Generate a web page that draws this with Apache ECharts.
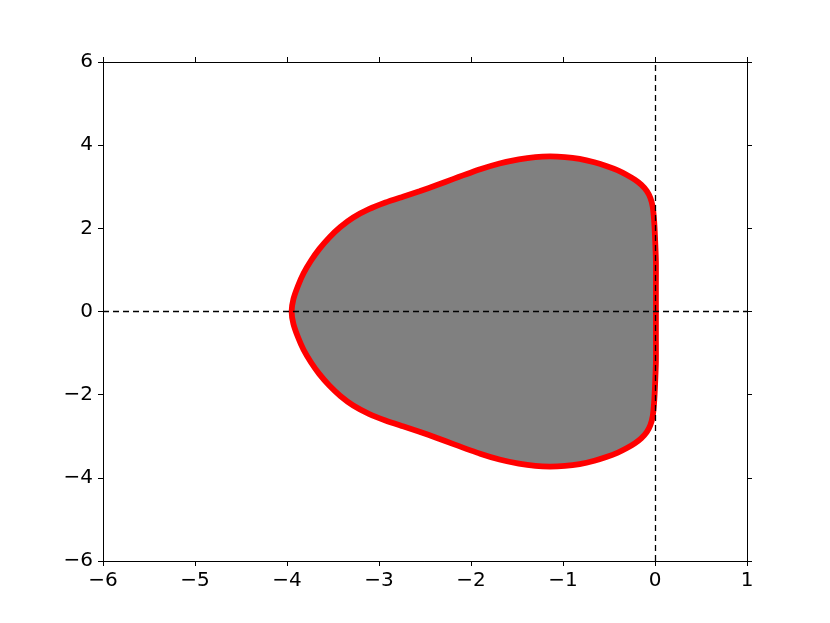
<!DOCTYPE html>
<html>
<head>
<meta charset="utf-8">
<script src="https://cdn.jsdelivr.net/npm/echarts@6/dist/echarts.min.js"></script>
<style>
  html, body { margin: 0; padding: 0; background: #fff; }
  #chart { width: 830px; height: 623px; }
</style>
</head>
<body>
<div id="chart"></div>
<script>
var boundaryRe = [
  -3.95, -3.93, -3.88, -3.82, -3.74, -3.65, -3.54, -3.42, -3.28, -3.11, -2.93, -2.74,
  -2.56, -2.37, -2.19, -1.90, -1.69, -1.48, -1.30, -1.14, -0.98, -0.82, -0.66, -0.53,
  -0.41, -0.31, -0.22, -0.15, -0.09, -0.05, -0.025, -0.01, 0.00, 0.01, 0.01, 0.01,
  0.01, 0.01, 0.00, -0.01, -0.025, -0.05, -0.09, -0.15, -0.22, -0.31, -0.41, -0.53,
  -0.66, -0.82, -0.98, -1.14, -1.30, -1.48, -1.69, -1.90, -2.19, -2.37, -2.56, -2.74,
  -2.93, -3.11, -3.28, -3.42, -3.54, -3.65, -3.74, -3.82, -3.88, -3.93
];
var boundaryIm = [
  0.00, 0.30, 0.62, 0.92, 1.22, 1.50, 1.78, 2.03, 2.26, 2.46, 2.62, 2.76,
  2.89, 3.04, 3.19, 3.42, 3.56, 3.66, 3.715, 3.73, 3.715, 3.67, 3.59, 3.50,
  3.40, 3.29, 3.17, 3.05, 2.90, 2.73, 2.52, 2.20, 1.80, 1.20, 0.60, 0.00,
  -0.60, -1.20, -1.80, -2.20, -2.52, -2.73, -2.90, -3.05, -3.17, -3.29, -3.40, -3.50,
  -3.59, -3.67, -3.715, -3.73, -3.715, -3.66, -3.56, -3.42, -3.19, -3.04, -2.89, -2.76,
  -2.62, -2.46, -2.26, -2.03, -1.78, -1.50, -1.22, -0.92, -0.62, -0.30
];
var xTicks = [-6, -5, -4, -3, -2, -1, 0, 1];
var yTicks = [-6, -4, -2, 0, 2, 4, 6];

var pts = boundaryRe.map(function (x, i) { return [x, boundaryIm[i]]; });

function fmt(v) {
  return v < 0 ? '\u2212' + Math.abs(v) : String(v);
}

var chart = echarts.init(document.getElementById('chart'));
var axisCommon = {
  axisLine: { onZero: false, lineStyle: { color: '#000', width: 1 } },
  axisTick: { show: true, inside: false, length: 5, lineStyle: { color: '#000', width: 1 } },
  splitLine: { show: false }
};
var labelStyle = { color: '#000', fontSize: 20, fontFamily: 'DejaVu Sans' };

chart.setOption({
  animation: false,
  grid: { left: 103, right: 83, top: 62, bottom: 62 },
  xAxis: [
    Object.assign({ type: 'value', min: xTicks[0], max: xTicks[xTicks.length - 1], interval: 1, position: 'bottom',
      axisLabel: Object.assign({ margin: 10, formatter: fmt }, labelStyle) }, axisCommon),
    Object.assign({ type: 'value', min: xTicks[0], max: xTicks[xTicks.length - 1], interval: 1, position: 'top',
      axisLabel: { show: false } }, axisCommon)
  ],
  yAxis: [
    Object.assign({ type: 'value', min: yTicks[0], max: yTicks[yTicks.length - 1], interval: 2, position: 'left',
      axisLabel: Object.assign({ margin: 10, formatter: fmt }, labelStyle) }, axisCommon),
    Object.assign({ type: 'value', min: yTicks[0], max: yTicks[yTicks.length - 1], interval: 2, position: 'right',
      axisLabel: { show: false } }, axisCommon)
  ],
  series: [
    {
      type: 'custom',
      coordinateSystem: 'cartesian2d',
      data: [[0, 0]],
      z: 2,
      renderItem: function (params, api) {
        return {
          type: 'polygon',
          shape: { points: pts.map(function (p) { return api.coord(p); }), smooth: 0.2 },
          style: { fill: '#808080', stroke: '#ff0000', lineWidth: 5.8, lineJoin: 'round' }
        };
      }
    },
    {
      type: 'line',
      data: [],
      z: 5,
      markLine: {
        silent: true,
        symbol: 'none',
        label: { show: false },
        lineStyle: { color: '#000', type: [6, 4], width: 1.3 },
        data: [{ xAxis: 0 }, { yAxis: 0 }]
      }
    }
  ]
});
</script>
</body>
</html>
